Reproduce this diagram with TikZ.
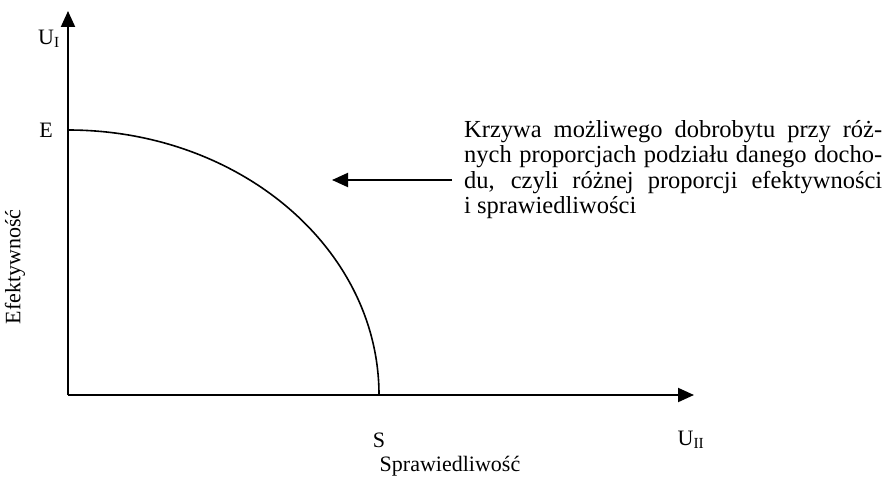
\documentclass[tikz,border=0pt]{standalone}
\usepackage{fontspec}
\setmainfont{Liberation Serif}
\usetikzlibrary{arrows.meta}

\begin{document}
\begin{tikzpicture}[x=1pt, y=1pt,
    axis/.style={line width=2pt, -{Triangle[length=16pt, width=14pt]}},
    lab/.style={font=\fontsize{22}{25}\selectfont, inner sep=0pt}]
            \useasboundingbox (0,0) rectangle (890,480);

            \coordinate (O) at (68,85);
            \coordinate (E) at (68,350);
            \coordinate (S) at (379,85);
            \coordinate (ytop) at (68,469);
            \coordinate (xend) at (694,85);

            \draw[axis] (O) -- (ytop);
            \draw[axis] (O) -- (xend);

            % curve of possible welfare
            \draw[line width=1.6pt] (E) arc[start angle=90, end angle=0, x radius=311, y radius=265];

            \node[lab] (ui) at (49,441) {U\textsubscript{I}};
            \node[lab] (e) at (46,350) {E};
            \node[lab] (s) at (379,40) {S};
            \node[lab] (uii) at (691,40) {U\textsubscript{II}};
            \node[lab] (spr) at (450,14) {Sprawiedliwość};
            \node[lab, rotate=90] (efe) at (15,213) {Efektywność};

            \node[lab, anchor=north west, text width=418pt, align=justify,
                  font=\fontsize{24.5}{25.5}\selectfont] (opis) at (464,360)
                {Krzywa możliwego dobrobytu przy róż-\linebreak
                 nych proporcjach podziału danego docho-\linebreak
                 du, czyli różnej proporcji efektywności\linebreak
                 i sprawiedliwości};

            \coordinate (a1) at (452,300);
            \coordinate (a2) at (332,300);
            \draw[line width=2pt, -{Triangle[length=16pt, width=14pt]}] (a1) -- (a2);
\end{tikzpicture}
\end{document}
